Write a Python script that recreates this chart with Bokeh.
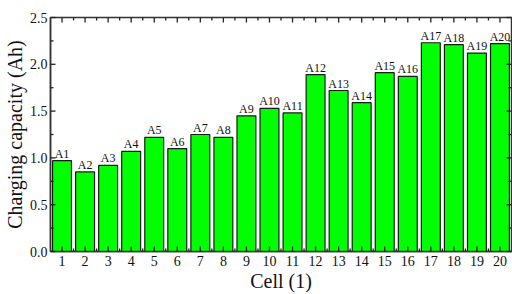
import math
from bokeh.plotting import figure
from bokeh.models import (ColumnDataSource, LinearAxis, FixedTicker,
                          NumeralTickFormatter, Range1d, LabelSet)
from bokeh.embed import file_html
from bokeh.resources import INLINE

cells = list(range(1, 21))
labels = [f"A{i}" for i in cells]
capacity = [0.97, 0.85, 0.92, 1.07, 1.22, 1.10, 1.25, 1.22, 1.45, 1.53,
            1.48, 1.89, 1.72, 1.59, 1.91, 1.87, 2.23, 2.21, 2.12, 2.22]
x_minor = [c + 0.5 for c in range(1, 20)]
y_major = [0.0, 0.5, 1.0, 1.5, 2.0, 2.5]
y_minor = [0.25, 0.75, 1.25, 1.75, 2.25]

X0, X1 = 0.5, 20.5
Y0, Y1 = 0.0, 2.5

FONT = "Liberation Serif"
INK = "#222222"

src = ColumnDataSource(dict(x=cells, top=capacity, label=labels))

p = figure(width=512, height=294, output_backend="svg", toolbar_location=None,
           x_range=Range1d(X0, X1), y_range=Range1d(Y0, Y1),
           min_border_left=49, min_border_right=1, min_border_top=17, min_border_bottom=42,
           x_axis_location=None, y_axis_location=None)
p.background_fill_color = "white"
p.border_fill_color = "white"
p.outline_line_color = "#333333"
p.outline_line_width = 1.5
p.xgrid.visible = False
p.ygrid.visible = False

p.vbar(x="x", top="top", width=0.82, source=src, fill_color="#00ff00",
       line_color="#1a1a1a", line_width=1.2)

p.add_layout(LabelSet(x="x", y="top", text="label", source=src, text_align="center",
                      text_baseline="bottom", y_offset=0, text_font=FONT,
                      text_font_size="12px", text_color="#111111"))

# inward tick marks drawn as short screen-length rays from the frame edges
def ticks(xs, ys, length, angle):
    p.ray(x=xs, y=ys, length=length, length_units="screen", angle=angle,
          line_color=INK, line_width=1.3, level="overlay")

ticks(cells, [Y1] * len(cells), 5, -math.pi / 2)
ticks(x_minor, [Y1] * len(x_minor), 3, -math.pi / 2)
ticks(cells, [Y0] * len(cells), 5, math.pi / 2)
ticks(x_minor, [Y0] * len(x_minor), 3, math.pi / 2)
ticks([X0] * len(y_major), y_major, 5, 0)
ticks([X0] * len(y_minor), y_minor, 3, 0)
ticks([X1] * len(y_major), y_major, 5, math.pi)
ticks([X1] * len(y_minor), y_minor, 3, math.pi)


def style(ax):
    ax.axis_line_color = "#333333"
    ax.axis_line_width = 1.5
    ax.major_tick_in = 0
    ax.major_tick_out = 0
    ax.minor_tick_line_color = None
    ax.major_label_text_font = FONT
    ax.major_label_text_font_size = "14px"
    ax.major_label_text_color = "#111111"
    ax.axis_label_text_font = FONT
    ax.axis_label_text_font_style = "normal"
    ax.axis_label_text_font_size = "20px"
    ax.axis_label_text_color = "#111111"


bottom = LinearAxis(ticker=FixedTicker(ticks=cells), axis_label="Cell (1)")
style(bottom)
bottom.major_label_standoff = 4
bottom.axis_label_standoff = 1
p.add_layout(bottom, "below")

left = LinearAxis(ticker=FixedTicker(ticks=y_major), axis_label="Charging capacity (Ah)",
                  formatter=NumeralTickFormatter(format="0.0"))
style(left)
left.major_label_standoff = 3
left.axis_label_standoff = 1
p.add_layout(left, "left")

open("out.html", "w").write(file_html(p, INLINE))
